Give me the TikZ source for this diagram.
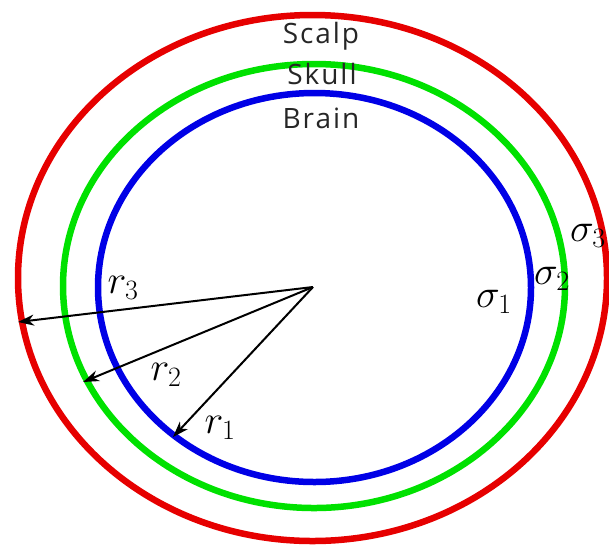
\documentclass[tikz,border=0pt]{standalone}
\usepackage{fix-cm}
\usepackage{fontspec}
\setsansfont{Open Sans}[LetterSpace=7]
\usetikzlibrary{arrows.meta}
\definecolor{scalpred}{RGB}{230,0,0}
\definecolor{skullgreen}{RGB}{0,225,0}
\definecolor{brainblue}{RGB}{0,0,230}

\begin{document}
\begin{tikzpicture}[x=1pt, y=-1pt, >={Stealth[length=16pt,width=11pt,inset=5pt]},
    layer/.style={line width=6.5pt},
    tissue/.style={font=\sffamily\fontsize{28}{32}\selectfont, text=black!85},
    symb/.style={font=\fontsize{40}{44}\selectfont}]
    \useasboundingbox (0,0) rectangle (609,550);

    % head layers, outer to inner
    \draw[layer, scalpred] (312.5,278) ellipse [x radius=294.5, y radius=263];
    \draw[layer, skullgreen] (314,286) ellipse [x radius=251, y radius=222];
    \draw[layer, brainblue] (314.5,287.5) ellipse [x radius=216.5, y radius=194.5];

    % layer names
    \node[tissue] (scalp) at (321,36) {Scalp};
    \node[tissue] (skull) at (322,74) {Skull};
    \node[tissue] (brain) at (321,118) {Brain};

    % conductivities
    \node[symb] (sig1) at (494,302) {$\sigma_1$};
    \node[symb] (sig2) at (552,279) {$\sigma_2$};
    \node[symb] (sig3) at (588,236) {$\sigma_3$};

    % radii from the centre
    \coordinate (o) at (313,287);
    \coordinate (end3) at (18,322);
    \coordinate (end2) at (83,382);
    \coordinate (end1) at (173,437);
    \foreach \i in {1,2,3} {
        \draw[->, line width=2pt] (o) -- (end\i);
    }
    \node[symb] (rad3) at (123,288) {$r_3$};
    \node[symb] (rad2) at (166,375) {$r_2$};
    \node[symb] (rad1) at (220,428) {$r_1$};
\end{tikzpicture}
\end{document}
